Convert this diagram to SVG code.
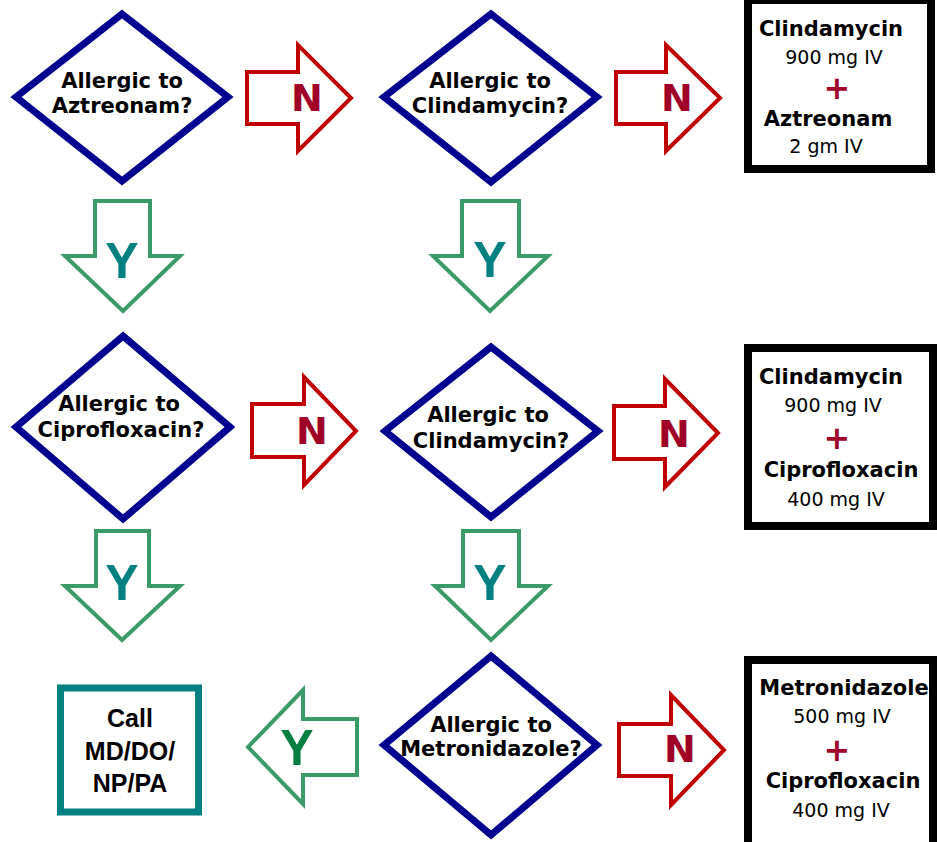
<svg xmlns="http://www.w3.org/2000/svg" width="937" height="842" viewBox="0 0 937 842">
<style>
.dia{fill:#fff;stroke:#000090;stroke-width:7;stroke-linejoin:miter}
.no{fill:#fff;stroke:#c00000;stroke-width:4}
.yes{fill:#fff;stroke:#3a9a68;stroke-width:4}
.box{fill:#fff;stroke:#000;stroke-width:8}
.q{font-family:"DejaVu Sans",Verdana,sans-serif;font-weight:bold;font-size:21px;fill:#000;text-anchor:middle}
.b{font-family:"DejaVu Sans",Verdana,sans-serif;font-weight:bold;font-size:21px;fill:#000;text-anchor:middle}
.r{font-family:"DejaVu Sans",Verdana,sans-serif;font-size:19px;fill:#000;text-anchor:middle}
.plus{font-family:"DejaVu Sans",sans-serif;font-weight:bold;font-size:32px;fill:#a0002a;text-anchor:middle}
.nl{font-family:"DejaVu Sans",sans-serif;font-weight:bold;font-size:38px;fill:#a00028;text-anchor:middle}
.yl{font-family:"Liberation Sans",Arial,sans-serif;font-weight:bold;font-size:50px;fill:#008080;text-anchor:middle}
.call{font-family:"Liberation Sans",Arial,sans-serif;font-weight:bold;font-size:25px;fill:#000;text-anchor:middle}
</style>
<rect width="937" height="842" fill="#fff"/>
<g id="connectors">
<g id="n1"><path class="no" d="M247,72 H298 V45 L351,98 L298,151 V124 H247 Z"/><text class="nl" x="307" y="111">N</text></g>
<g id="n2"><path class="no" d="M616,72 H666 V45 L720,98 L666,151 V124 H616 Z"/><text class="nl" x="677" y="111">N</text></g>
<g id="n3"><path class="no" d="M252,404 H304 V377 L356,431 L304,485 V457 H252 Z"/><text class="nl" x="312" y="444">N</text></g>
<g id="n4"><path class="no" d="M614,406 H665 V379 L718,433 L665,487 V459 H614 Z"/><text class="nl" x="674" y="447">N</text></g>
<g id="n5"><path class="no" d="M619,724 H671 V695 L724,750 L671,805 V776 H619 Z"/><text class="nl" x="680" y="762">N</text></g>
<g id="y1"><path class="yes" d="M95,201 H150 V256 H180 L123,311 L65,256 H95 Z"/><text class="yl" x="122" y="278">Y</text></g>
<g id="y2"><path class="yes" d="M462,201 H519 V256 H548 L490,311 L433,256 H462 Z"/><text class="yl" x="490" y="277">Y</text></g>
<g id="y3"><path class="yes" d="M96,531 H149 V586 H180 L122,640 L65,586 H96 Z"/><text class="yl" x="122" y="600">Y</text></g>
<g id="y4"><path class="yes" d="M463,531 H519 V586 H548 L491,640 L435,586 H463 Z"/><text class="yl" x="490" y="600">Y</text></g>
<g id="y5"><path class="yes" d="M357,719 H303 V690 L248,747 L303,804 V775 H357 Z"/><text class="yl" x="297" y="765" style="fill:#007f3f">Y</text></g>
</g>
<g id="d1"><polygon class="dia" points="122,14 228,97 122,181 16,97"/><text class="q" x="122" y="88">Allergic to</text><text class="q" x="122" y="113">Aztreonam?</text></g>
<g id="d2"><polygon class="dia" points="491,14 597,97 491,182 384,97"/><text class="q" x="490" y="88">Allergic to</text><text class="q" x="490" y="113">Clindamycin?</text></g>
<g id="d3"><polygon class="dia" points="123,336 230,427 123,519 16,427"/><text class="q" x="119" y="411">Allergic to</text><text class="q" x="121" y="437">Ciprofloxacin?</text></g>
<g id="d4"><polygon class="dia" points="491,347 598,431 491,517 385,431"/><text class="q" x="488" y="422">Allergic to</text><text class="q" x="491" y="448">Clindamycin?</text></g>
<g id="d5"><polygon class="dia" points="491,656 597,745 491,835 384,745"/><text class="q" x="491" y="732">Allergic to</text><text class="q" x="491" y="756">Metronidazole?</text></g>
<g id="box1"><rect class="box" x="748" y="0" width="183" height="169"/>
<text class="b" x="831" y="36">Clindamycin</text><text class="r" x="834" y="64">900 mg IV</text><text class="plus" x="837" y="99">+</text><text class="b" x="828" y="126">Aztreonam</text><text class="r" x="826" y="153">2 gm IV</text></g>
<g id="box2"><rect class="box" x="748" y="348" width="185" height="178"/>
<text class="b" x="831" y="384">Clindamycin</text><text class="r" x="833" y="412">900 mg IV</text><text class="plus" x="837" y="449">+</text><text class="b" x="841" y="477">Ciprofloxacin</text><text class="r" x="836" y="506">400 mg IV</text></g>
<g id="box3"><rect class="box" x="748" y="660" width="185" height="190"/>
<text class="b" x="844" y="695">Metronidazole</text><text class="r" x="842" y="723">500 mg IV</text><text class="plus" x="837" y="761">+</text><text class="b" x="843" y="788">Ciprofloxacin</text><text class="r" x="841" y="817">400 mg IV</text></g>
<g id="call"><rect x="60.5" y="688" width="138" height="124" fill="#fff" stroke="#008080" stroke-width="7"/>
<text class="call" x="130" y="727">Call</text><text class="call" x="130" y="760">MD/DO/</text><text class="call" x="130" y="792">NP/PA</text></g>
</svg>
